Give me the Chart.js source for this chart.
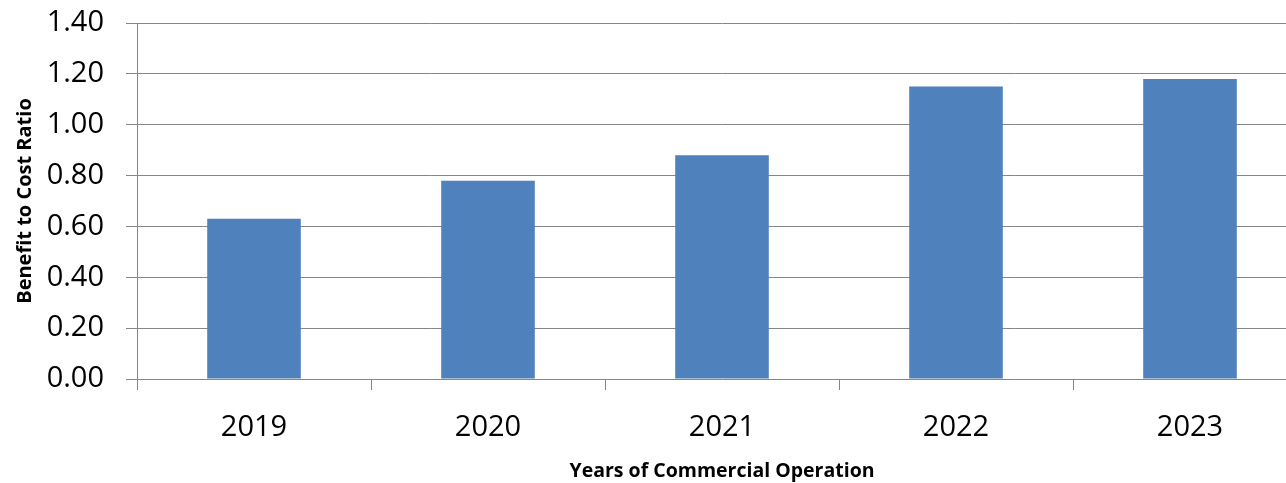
<!DOCTYPE html>
<html>
<head>
<meta charset="utf-8">
<script src="https://cdn.jsdelivr.net/npm/chart.js@4/dist/chart.umd.min.js"></script>
<style>
  html, body { margin: 0; padding: 0; background: #fff; overflow: hidden; }
  #wrap { width: 1307px; height: 483px; }
</style>
</head>
<body>
<div id="wrap"><canvas id="myChart" width="1307" height="483"></canvas></div>
<script>
const anos = ['2019', '2020', '2021', '2022', '2023'];
const razao = [0.63, 0.78, 0.88, 1.15, 1.18];
const tituloY = 'Benefit to Cost Ratio';
const tituloX = 'Years of Commercial Operation';

const corBarra = '#4F81BD';
const corGrade = '#868686';

let ctx = document.getElementById('myChart').getContext('2d');

new Chart(ctx, {
  type: 'bar',
  data: {
    labels: anos,
    datasets: [{
      data: razao,
      backgroundColor: corBarra,
      borderWidth: 0,
      barPercentage: 0.4,
      categoryPercentage: 1
    }]
  },
  options: {
    responsive: false,
    animation: false,
    layout: { padding: { top: 23, right: 0, bottom: 0, left: 0 } },
    plugins: {
      legend: { display: false },
      tooltip: { enabled: false }
    },
    scales: {
      x: {
        grid: {
          offset: true,
          drawOnChartArea: false,
          drawTicks: true,
          tickLength: 11,
          color: corGrade,
          lineWidth: 1
        },
        border: { display: false },
        ticks: {
          color: '#000',
          font: { family: 'Open Sans', size: 29 },
          padding: 20,
          maxRotation: 0
        },
        title: {
          display: true,
          text: tituloX,
          color: '#000',
          font: { family: 'Open Sans', size: 19.5, weight: 'bold' },
          padding: { top: 0, bottom: 0 }
        },
        afterFit: (scale) => {
          scale.height = 104;
          scale.paddingLeft = 0;
          scale.paddingRight = 0;
        }
      },
      y: {
        min: 0,
        max: 1.4,
        ticks: {
          stepSize: 0.2,
          color: '#000',
          font: { family: 'Open Sans', size: 29 },
          padding: 22,
          callback: (v) => v.toFixed(2)
        },
        grid: {
          color: corGrade,
          lineWidth: 1,
          tickLength: 11
        },
        border: { color: corGrade, width: 1 },
        title: {
          display: true,
          text: tituloY,
          color: '#000',
          font: { family: 'Open Sans', size: 20, weight: 'bold' },
          padding: { top: 13, bottom: 0 }
        },
        afterFit: (scale) => {
          scale.width = 137;
          scale.paddingTop = 0;
          scale.paddingBottom = 0;
        }
      }
    }
  }
});
</script>
</body>
</html>
